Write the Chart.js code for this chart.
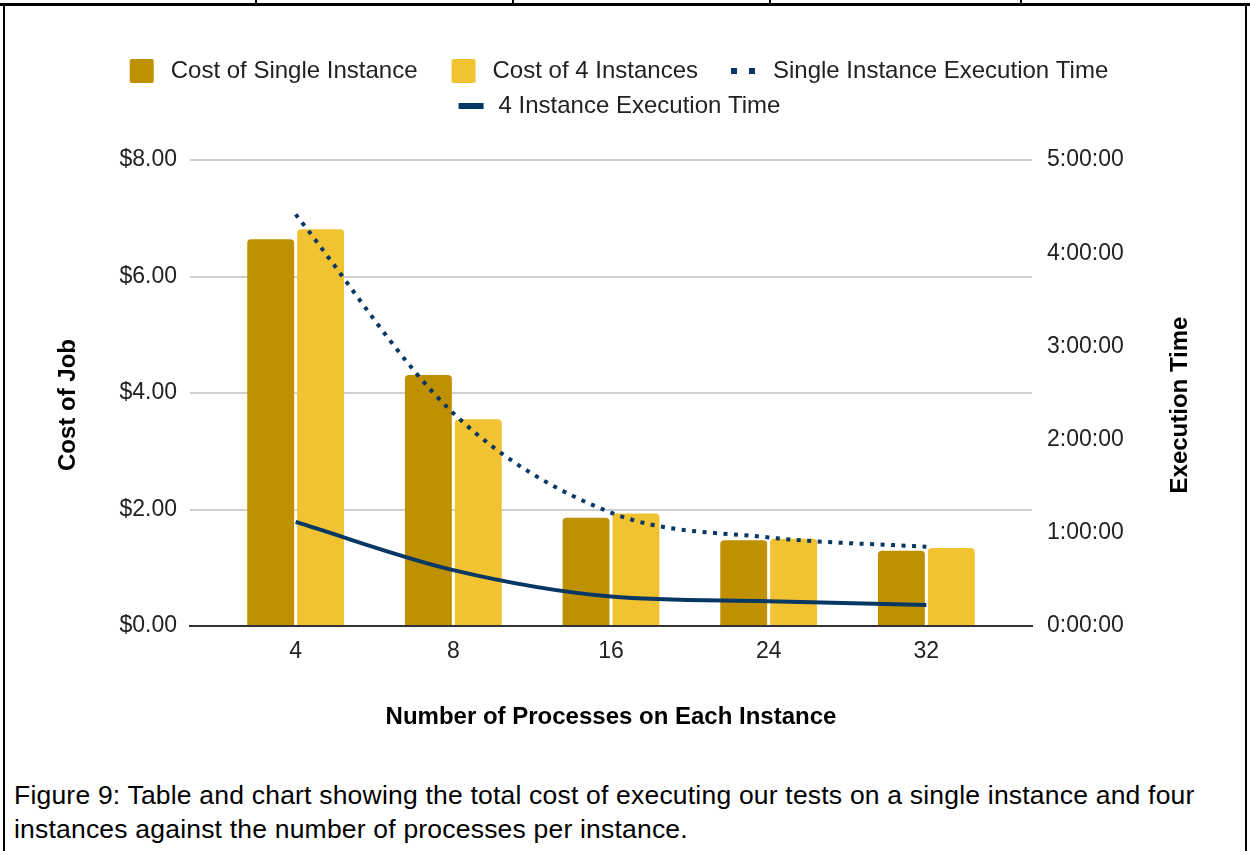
<!DOCTYPE html>
<html>
<head>
<meta charset="utf-8">
<script src="https://cdn.jsdelivr.net/npm/chart.js@4.4.1/dist/chart.umd.min.js"></script>
<style>
  html, body { margin: 0; padding: 0; background: #fff; }
  body { width: 1250px; height: 851px; position: relative; overflow: hidden; font-family: "Liberation Sans", Arial, sans-serif; }
  #chart { position: absolute; left: 0; top: 0; }
  .rule { position: absolute; background: #000; }
  #caption { position: absolute; left: 14px; top: 778px; width: 1225px; font-size: 26.5px; letter-spacing: 0.2px; line-height: 34px; color: #000; white-space: nowrap; }
</style>
</head>
<body>
<!-- table edge above the chart and the surrounding cell frame -->
<div class="rule" style="left:0; top:3px; width:1250px; height:3px;"></div>
<div class="rule" style="left:255px; top:0; width:2px; height:5px;"></div>
<div class="rule" style="left:512px; top:0; width:2px; height:5px;"></div>
<div class="rule" style="left:769px; top:0; width:2px; height:5px;"></div>
<div class="rule" style="left:1020px; top:0; width:2px; height:5px;"></div>
<div class="rule" style="left:3px; top:3px; width:2px; height:848px;"></div>
<div class="rule" style="left:1245px; top:3px; width:2px; height:848px;"></div>

<canvas id="chart" width="1250" height="760"></canvas>
<div id="caption">Figure 9: Table and chart showing the total cost of executing our tests on a single instance and four<br>instances against the number of processes per instance.</div>

<script>
// Processes per instance (x categories)
const processCounts = ['4', '8', '16', '24', '32'];

// Cost of the job in dollars
const costSingleInstance = [6.64, 4.31, 1.86, 1.47, 1.29];
const costFourInstances  = [6.81, 3.55, 1.93, 1.50, 1.34];

// Execution time in minutes
const timeSingleInstance = [265, 137, 73, 57, 51];
const timeFourInstances  = [67, 36, 19, 16, 13.5];

// Axis tick values
const costTicks = [0, 2, 4, 6, 8];
const timeTicks = [0, 60, 120, 180, 240, 300];

const FONT = '"Liberation Sans", Arial, sans-serif';
const DARK_GOLD = '#bf9000';
const GOLD = '#f1c232';
const NAVY = '#073763';

const toPoints = (values) => values.map((v, i) => ({ x: i, y: v }));

// Legend symbols: each image is 52px wide, symbol drawn toward its right
function legendImage(draw) {
  const c = document.createElement('canvas');
  c.width = 52; c.height = 24;
  draw(c.getContext('2d'));
  return c;
}
function boxSymbol(color) {
  return legendImage(ctx => {
    ctx.fillStyle = color;
    ctx.beginPath();
    ctx.roundRect(23, 0, 24, 24, 2);
    ctx.fill();
  });
}
const dottedSymbol = legendImage(ctx => {
  ctx.fillStyle = NAVY;
  ctx.fillRect(22, 9, 6, 6);
  ctx.fillRect(40, 9, 6, 6);
});
const solidSymbol = legendImage(ctx => {
  ctx.fillStyle = NAVY;
  ctx.fillRect(24, 9, 25, 6);
});
const legendSymbols = [boxSymbol(DARK_GOLD), boxSymbol(GOLD), dottedSymbol, solidSymbol];

// Extra room between the legend and the plot
const legendGap = {
  id: 'legendGap',
  beforeInit(chart) {
    const fit = chart.legend.fit;
    chart.legend.fit = function () {
      fit.bind(chart.legend)();
      this.height += 32;
    };
  }
};

// Axis titles (the right one reads bottom-to-top like the left one)
const axisTitles = {
  id: 'axisTitles',
  afterDraw(chart) {
    const { ctx, chartArea: a } = chart;
    const midY = (a.top + a.bottom) / 2 + 12;
    ctx.save();
    ctx.fillStyle = '#000';
    ctx.font = 'bold 24px ' + FONT;
    ctx.textAlign = 'center';
    ctx.textBaseline = 'middle';
    ctx.fillText('Number of Processes on Each Instance', (a.left + a.right) / 2, a.bottom + 91);
    ctx.translate(a.left - 122, midY);
    ctx.rotate(-Math.PI / 2);
    ctx.fillText('Cost of Job', 0, 0);
    ctx.restore();
    ctx.save();
    ctx.fillStyle = '#000';
    ctx.font = 'bold 24px ' + FONT;
    ctx.textAlign = 'center';
    ctx.textBaseline = 'middle';
    ctx.translate(a.right + 148, midY);
    ctx.rotate(-Math.PI / 2);
    ctx.fillText('Execution Time', 0, 0);
    ctx.restore();
  }
};

const fmtTime = (m) => Math.floor(m / 60) + ':' + String(m % 60).padStart(2, '0') + ':00';

new Chart(document.getElementById('chart'), {
  type: 'bar',
  data: {
    datasets: [
      {
        label: 'Cost of Single Instance',
        data: toPoints(costSingleInstance),
        backgroundColor: DARK_GOLD,
        borderRadius: { topLeft: 4, topRight: 4, bottomLeft: 0, bottomRight: 0 },
        borderSkipped: 'start',
        yAxisID: 'y',
        order: 2
      },
      {
        label: 'Cost of 4 Instances',
        data: toPoints(costFourInstances),
        backgroundColor: GOLD,
        borderRadius: { topLeft: 4, topRight: 4, bottomLeft: 0, bottomRight: 0 },
        borderSkipped: 'start',
        yAxisID: 'y',
        order: 2
      },
      {
        type: 'line',
        label: 'Single Instance Execution Time',
        data: toPoints(timeSingleInstance),
        borderColor: NAVY,
        backgroundColor: NAVY,
        borderWidth: 4,
        borderDash: [4, 6.5],
        borderCapStyle: 'butt',
        cubicInterpolationMode: 'monotone',
        pointRadius: 0,
        fill: false,
        yAxisID: 'y1',
        order: 1
      },
      {
        type: 'line',
        label: '4 Instance Execution Time',
        data: toPoints(timeFourInstances),
        borderColor: NAVY,
        backgroundColor: NAVY,
        borderWidth: 4,
        cubicInterpolationMode: 'monotone',
        pointRadius: 0,
        fill: false,
        yAxisID: 'y1',
        order: 1
      }
    ]
  },
  options: {
    responsive: false,
    animation: false,
    devicePixelRatio: 1,
    layout: { padding: { top: 48, left: 0, right: 35, bottom: 0 } },
    datasets: {
      bar: { categoryPercentage: 0.633, barPercentage: 0.94 }
    },
    plugins: {
      tooltip: { enabled: false },
      legend: {
        position: 'top',
        labels: {
          usePointStyle: true,
          pointStyleWidth: 52,
          padding: 11,
          color: '#222',
          font: { family: FONT, size: 24 },
          generateLabels(chart) {
            return chart.data.datasets.map((ds, i) => ({
              text: ds.label,
              pointStyle: legendSymbols[i],
              fontColor: '#222',
              lineWidth: 0,
              hidden: false,
              datasetIndex: i
            }));
          }
        }
      }
    },
    scales: {
      x: {
        type: 'linear',
        offset: false,
        min: -0.67,
        max: 4.67,
        afterBuildTicks(scale) {
          scale.ticks = processCounts.map((_, i) => ({ value: i }));
        },
        afterFit(scale) { scale.height = 134; },
        grid: { display: false, drawTicks: false, offset: false },
        border: { display: true, color: '#333', width: 2 },
        ticks: {
          padding: 12,
          color: '#222',
          font: { family: FONT, size: 23 },
          callback: (v) => processCounts[v] ?? ''
        }
      },
      y: {
        position: 'left',
        min: 0,
        max: 8,
        afterBuildTicks(scale) {
          scale.ticks = costTicks.map(v => ({ value: v }));
        },
        afterFit(scale) { scale.width = 190; },
        grid: { color: '#cfcfcf', lineWidth: 2, drawTicks: false },
        border: { display: false },
        ticks: {
          padding: 13,
          color: '#222',
          font: { family: FONT, size: 23 },
          callback: (v) => '$' + Number(v).toFixed(2)
        }
      },
      y1: {
        position: 'right',
        min: 0,
        max: 300,
        afterBuildTicks(scale) {
          scale.ticks = timeTicks.map(v => ({ value: v }));
        },
        afterFit(scale) { scale.width = 183; },
        grid: { display: false, drawTicks: false },
        border: { display: false },
        ticks: {
          padding: 15,
          color: '#222',
          font: { family: FONT, size: 23 },
          callback: (v) => fmtTime(v)
        }
      }
    }
  },
  plugins: [legendGap, axisTitles]
});
</script>
</body>
</html>
